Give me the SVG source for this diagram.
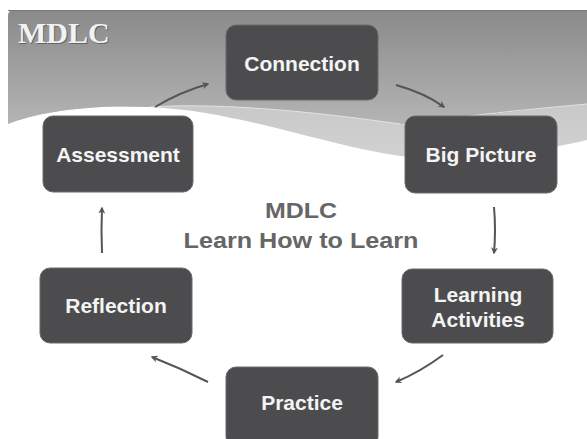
<svg xmlns="http://www.w3.org/2000/svg" width="587" height="439" viewBox="0 0 587 439">
<defs>
<linearGradient id="bg" x1="0" y1="0" x2="0" y2="1">
<stop offset="0" stop-color="#8a8a8a"/>
<stop offset="1" stop-color="#b4b4b4"/>
</linearGradient>
<linearGradient id="band" x1="0" y1="0" x2="0" y2="1">
<stop offset="0" stop-color="#b8b8b8"/>
<stop offset="1" stop-color="#d2d2d2"/>
</linearGradient>
<marker id="ah" viewBox="0 0 10 10" refX="8" refY="5" markerWidth="7" markerHeight="7" orient="auto" markerUnits="userSpaceOnUse">
<path d="M0,0 L10,5 L0,10 L3,5 z" fill="#555"/>
</marker>
</defs>
<style>
.node rect{fill:#4c4c4e;stroke:#6a6a6a;stroke-width:1}
.node text{font-family:"Liberation Sans",Arial,sans-serif;font-weight:bold;font-size:21px;fill:#f4f4f4;text-anchor:middle}
.conn path{fill:none;stroke:#555;stroke-width:2;marker-end:url(#ah)}
.title{font-family:"Liberation Sans",Arial,sans-serif;font-weight:bold;font-size:22px;fill:#666;text-anchor:middle}
</style>
<rect width="587" height="439" fill="#ffffff"/>
<g id="banner">
<path d="M8,16 Q8,10 14,10 L587,10 L587,140 C545,150 480,160 420,158 C340,152 250,112 150,107 C85,104 35,113 8,124 Z" fill="url(#band)"/>
<path d="M8,16 Q8,10 14,10 L587,10 L587,104 C520,110 455,120 400,124 C330,114 230,102 150,107 C85,104 35,113 8,124 Z" fill="url(#bg)"/>
<path d="M400,124 C330,114 230,102 150,107" fill="none" stroke="#e2e2e2" stroke-width="1"/>
<path d="M470,116 C520,110 555,107 587,104" fill="none" stroke="#e2e2e2" stroke-width="1"/>
<line x1="8" y1="10.5" x2="587" y2="10.5" stroke="#7a7a7a" stroke-width="1"/>
<text x="19" y="44" font-family="'Liberation Serif','Times New Roman',serif" font-weight="bold" font-size="30" fill="#444" opacity="0.6">MDLC</text>
<text x="18" y="43" font-family="'Liberation Serif','Times New Roman',serif" font-weight="bold" font-size="30" fill="#f2f2f2">MDLC</text>
</g>
<g class="conn">
<path d="M155,107 Q180,92 208,84"/>
<path d="M396,85 Q425,93 444,107"/>
<path d="M494,207 Q496,230 494,253"/>
<path d="M443,355 Q420,372 396,382"/>
<path d="M208,382 Q180,368 152,357"/>
<path d="M102,253 Q101,230 102,208"/>
</g>
<g id="connection" class="node"><rect x="226" y="25" width="152" height="75" rx="10"/><text x="302" y="71">Connection</text></g>
<g id="bigpicture" class="node"><rect x="405" y="116" width="152" height="77" rx="10"/><text x="481" y="162">Big Picture</text></g>
<g id="assessment" class="node"><rect x="43" y="116" width="150" height="76" rx="10"/><text x="118" y="162">Assessment</text></g>
<g id="reflection" class="node"><rect x="40" y="268" width="152" height="75" rx="10"/><text x="116" y="313">Reflection</text></g>
<g id="learning" class="node"><rect x="402" y="269" width="151" height="74" rx="10"/><text x="478" y="302">Learning</text><text x="478" y="327">Activities</text></g>
<g id="practice" class="node"><rect x="226" y="367" width="152" height="80" rx="10"/><text x="302" y="410">Practice</text></g>
<g id="center">
<text class="title" x="301" y="218" textLength="72" lengthAdjust="spacingAndGlyphs">MDLC</text>
<text class="title" x="301" y="248" textLength="235" lengthAdjust="spacingAndGlyphs">Learn How to Learn</text>
</g>
</svg>
